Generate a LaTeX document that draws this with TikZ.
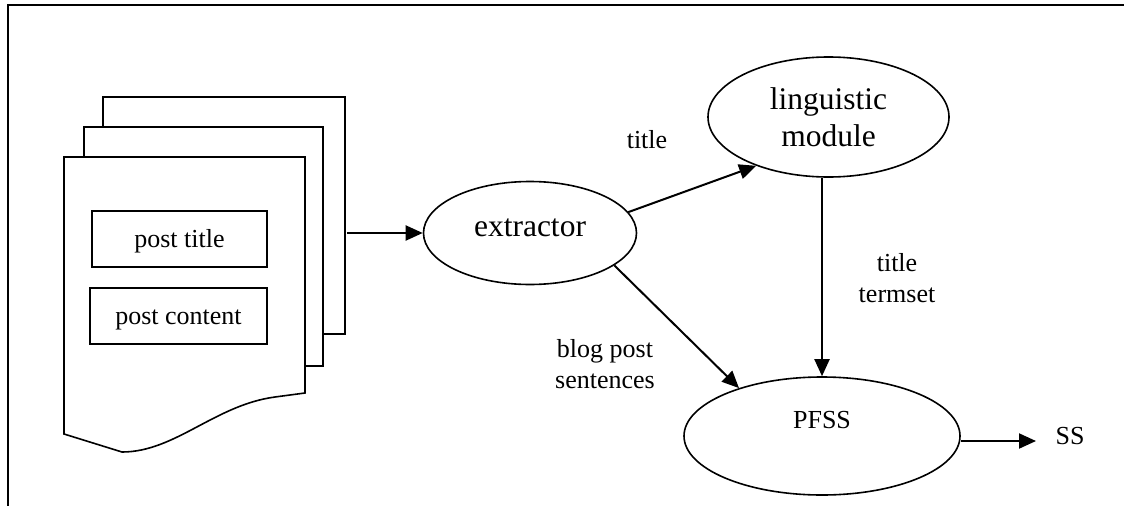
\documentclass[tikz,border=0pt]{standalone}
\usepackage{fontspec}
\setmainfont{Liberation Serif}
\usetikzlibrary{shapes.geometric,arrows.meta}

\begin{document}
\begin{tikzpicture}[x=1pt,y=-1pt,
  frameline/.style={line width=1.6pt},
  arr/.style={line width=2pt,-{Triangle[length=17pt,width=15pt]}},
  oval/.style={ellipse,draw,line width=1.6pt,inner sep=0pt},
  page/.style={draw,fill=white,line width=1.6pt,line join=miter},
  big/.style={font=\fontsize{31.5}{37}\selectfont,align=center},
  small/.style={font=\fontsize{26}{31}\selectfont,inner sep=0pt,align=center},
  field/.style={draw,line width=1.6pt,inner sep=0pt,font=\fontsize{26}{31}\selectfont,
    text height=18pt,text depth=2pt}]

\useasboundingbox (0,0) rectangle (1124,506);

% frame edges
\draw[frameline] (1124,5) -- (8,5) -- (8,506);

% stack of blog post pages
\draw[page] (103,97) rectangle (345,334);
\draw[page] (84,127) rectangle (323,366);
\draw[page] (64,157) -- (305,157) -- (305,393) -- (275,397)
  .. controls (215,405) and (175,452) .. (122,452) -- (64,434) -- cycle;
\coordinate (docout) at (347,233);

% fields of a post
\node[field, minimum width=175pt, minimum height=56pt] (ptitle) at (179.5,239) {post title};
\node[field, minimum width=177pt, minimum height=56pt] (pcontent) at (178.5,316) {post content};

% processing modules
\node[oval, big, minimum width=213pt, minimum height=103pt, text height=12pt, text depth=6pt]
  (extractor) at (530,233) {extractor};
\node[oval, big, minimum width=241pt, minimum height=120pt]
  (linguistic) at (828.5,117) {linguistic\\module};
\node[oval, font=\fontsize{26}{31}\selectfont, minimum width=276pt, minimum height=118pt,
  text height=4pt, text depth=20pt]
  (pfss) at (822,436) {PFSS};

% edge labels and output
\node[small, anchor=base] (ltitle) at (647,148) {title};
\node[small] (ltermset) at (897,278) {title\\termset};
\node[small] (lsent) at (605,364.5) {blog post\\sentences};
\node[small, anchor=base] (ss) at (1070,444) {SS};
\coordinate (ssin) at (1036,441);

% connectors
\draw[arr] (docout) -- (extractor);
\draw[arr] (extractor.12) -- (linguistic.214);
\draw[arr] (extractor.-21) -- (pfss.150);
\draw[arr] (linguistic.south -| pfss.north) -- (pfss.north);
\draw[arr] (pfss.east |- ssin) -- (ssin);
\end{tikzpicture}
\end{document}
